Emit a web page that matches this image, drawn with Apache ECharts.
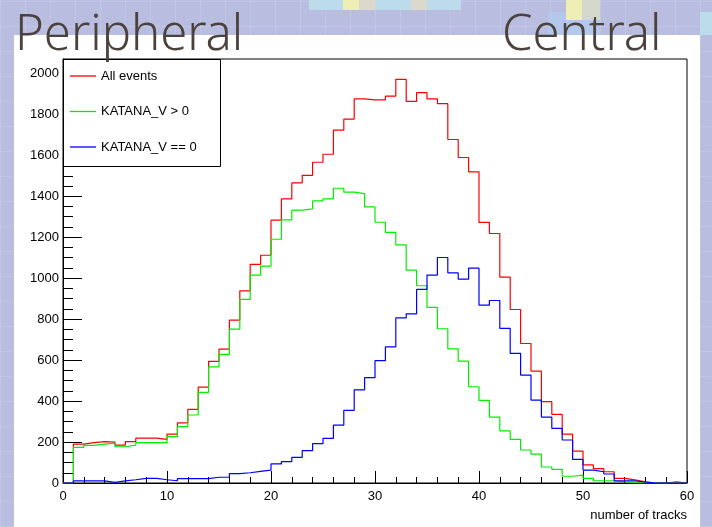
<!DOCTYPE html>
<html>
<head>
<meta charset="utf-8">
<script src="https://cdn.jsdelivr.net/npm/echarts@6/dist/echarts.min.js"></script>
<style>
html, body { margin: 0; padding: 0; }
body {
    width: 712px; height: 527px; position: relative; overflow: hidden;
    background: #b9bde0;
    background-image:
        repeating-linear-gradient(0deg, rgba(255,255,255,0.12) 0 1px, transparent 1px 25px),
        repeating-linear-gradient(90deg, rgba(255,255,255,0.12) 0 1px, transparent 1px 25px);
}
.deco { position: absolute; }
#panel { position: absolute; left: 14px; top: 35px; width: 686px; height: 492px; background: #fff; }
#chart { position: absolute; left: 0; top: 0; width: 712px; height: 527px; }
</style>
</head>
<body>
<!-- 背景装饰 -->
<div class="deco" style="left:309px;top:0;width:152px;height:10px;background:#bcdcec;"></div>
<div class="deco" style="left:343px;top:0;width:16px;height:10px;background:#eeeeb4;"></div>
<div class="deco" style="left:359px;top:0;width:16px;height:10px;background:#dcd8cc;"></div>
<div class="deco" style="left:411px;top:0;width:16px;height:10px;background:#dcd8cc;"></div>
<div class="deco" style="left:548px;top:12px;width:52px;height:23px;background:#b4c8ec;"></div>
<div class="deco" style="left:566px;top:0;width:16px;height:20px;background:#eeeeb4;"></div>
<div class="deco" style="left:582px;top:0;width:18px;height:20px;background:#d4d8cc;"></div>
<div class="deco" style="left:700px;top:12px;width:12px;height:23px;background:#bcdcec;"></div>
<div id="panel"></div>
<div id="chart"></div>
<script>
// 直方图数据 (bin 宽度 = 1 track, 0..60)
const binLow = Array.from({ length: 60 }, (_, i) => i);
const allEvents = [
    0, 190, 197, 202, 200, 185, 202, 219, 219, 213,
    239, 294, 359, 468, 594, 654, 795, 938, 1067, 1112,
    1283, 1387, 1465, 1502, 1566, 1605, 1723, 1776, 1875, 1870,
    1870, 1889, 1971, 1863, 1906, 1875, 1852, 1677, 1589, 1519,
    1272, 1218, 1005, 847, 681, 546, 397, 335, 239, 156,
    88, 70, 55, 23, 15, 6, 0, 0, 6, 0
];
const katanaPos = [
    0, 174, 184, 190, 195, 177, 185, 197, 197, 197,
    226, 275, 332, 442, 567, 628, 751, 896, 1015, 1059,
    1190, 1285, 1332, 1338, 1377, 1387, 1439, 1420, 1413, 1348,
    1273, 1224, 1163, 1039, 963, 857, 753, 655, 595, 470,
    403, 322, 254, 213, 161, 141, 78, 67, 33, 38,
    23, 11, 11, 6, 2, 0, 0, 0, 0, 0
];
const katanaZero = [
    0, 10, 10, 10, 3, 10, 16, 23, 23, 16,
    11, 21, 21, 21, 28, 28, 46, 50, 57, 63,
    93, 104, 125, 158, 192, 218, 283, 355, 455, 514,
    597, 665, 806, 826, 945, 1015, 1101, 1026, 995, 1049,
    868, 891, 755, 633, 527, 405, 322, 267, 210, 115,
    63, 55, 44, 10, 10, 5, 0, 0, 0, 0
];
const seriesNames = ['All events', 'KATANA_V > 0', 'KATANA_V == 0'];
const seriesColors = ['#ff0000', '#00ee00', '#0000ff'];

const FONT = "'Liberation Sans', Arial, sans-serif";

// 转成阶梯线的点
function histData(vals) {
    const d = vals.map((v, i) => [binLow[i], v]);
    d.push([binLow[binLow.length - 1] + 1, vals[vals.length - 1]]);
    return d;
}

const chart = echarts.init(document.getElementById('chart'), null, { renderer: 'canvas' });
chart.setOption({
    backgroundColor: 'transparent',
    animation: false,
    textStyle: { fontFamily: FONT },
    grid: {
        left: 63, right: 25, top: 59, bottom: 44,
        show: true, borderColor: '#000', borderWidth: 1, backgroundColor: 'transparent'
    },
    legend: {
        orient: 'vertical', left: 70, top: 69,
        icon: 'rect', itemWidth: 26, itemHeight: 1.3, itemGap: 21.5, padding: 0,
        textStyle: { fontSize: 13, color: '#000', fontFamily: FONT, lineHeight: 14 },
        data: seriesNames
    },
    xAxis: {
        type: 'value', min: 0, max: 60, interval: 10,
        axisLine: { lineStyle: { color: '#000', width: 1 } },
        axisTick: { inside: true, length: 12, lineStyle: { color: '#000' } },
        minorTick: { show: true, splitNumber: 5, length: 6, lineStyle: { color: '#000' } },
        splitLine: { show: false },
        axisLabel: { color: '#000', fontSize: 13, margin: 7, fontFamily: FONT }
    },
    yAxis: {
        type: 'value', min: 0, max: 2070, interval: 200,
        axisLine: { show: true, lineStyle: { color: '#000', width: 1 } },
        axisTick: { show: true, inside: true, length: 19, lineStyle: { color: '#000' } },
        minorTick: { show: true, splitNumber: 4, length: 10, lineStyle: { color: '#000' } },
        splitLine: { show: false },
        axisLabel: {
            color: '#000', fontSize: 13, margin: 4, fontFamily: FONT,
            formatter: v => (v % 200 === 0 ? String(v) : '')
        }
    },
    series: seriesNames.map((name, i) => ({
        name: name,
        type: 'line',
        step: 'end',
        symbol: 'none',
        data: histData([allEvents, katanaPos, katanaZero][i]),
        lineStyle: { color: seriesColors[i], width: 1.2 },
        itemStyle: { color: seriesColors[i] },
        z: 2 + i
    })),
    graphic: [
        // 图例框
        {
            type: 'rect', z: 3,
            shape: { x: 63.5, y: 59.5, width: 157, height: 107 },
            style: { fill: '#fff', stroke: '#000', lineWidth: 1 }
        },
        // 坐标轴标题
        {
            type: 'text', z: 5,
            style: {
                text: 'number of tracks', x: 687, y: 515,
                align: 'right', verticalAlign: 'middle',
                font: "13px 'Liberation Sans', Arial, sans-serif", fill: '#000'
            }
        },
        // 顶部标题
        {
            type: 'text', z: 5,
            style: {
                text: 'Peripheral', x: 15, y: 36,
                align: 'left', verticalAlign: 'middle',
                font: "300 49px 'Noto Sans', sans-serif", fill: '#4b423d'
            }
        },
        {
            type: 'text', z: 5,
            style: {
                text: 'Central', x: 502, y: 36,
                align: 'left', verticalAlign: 'middle',
                font: "300 49px 'Noto Sans', sans-serif", fill: '#4b423d'
            }
        }
    ]
});
</script>
</body>
</html>
